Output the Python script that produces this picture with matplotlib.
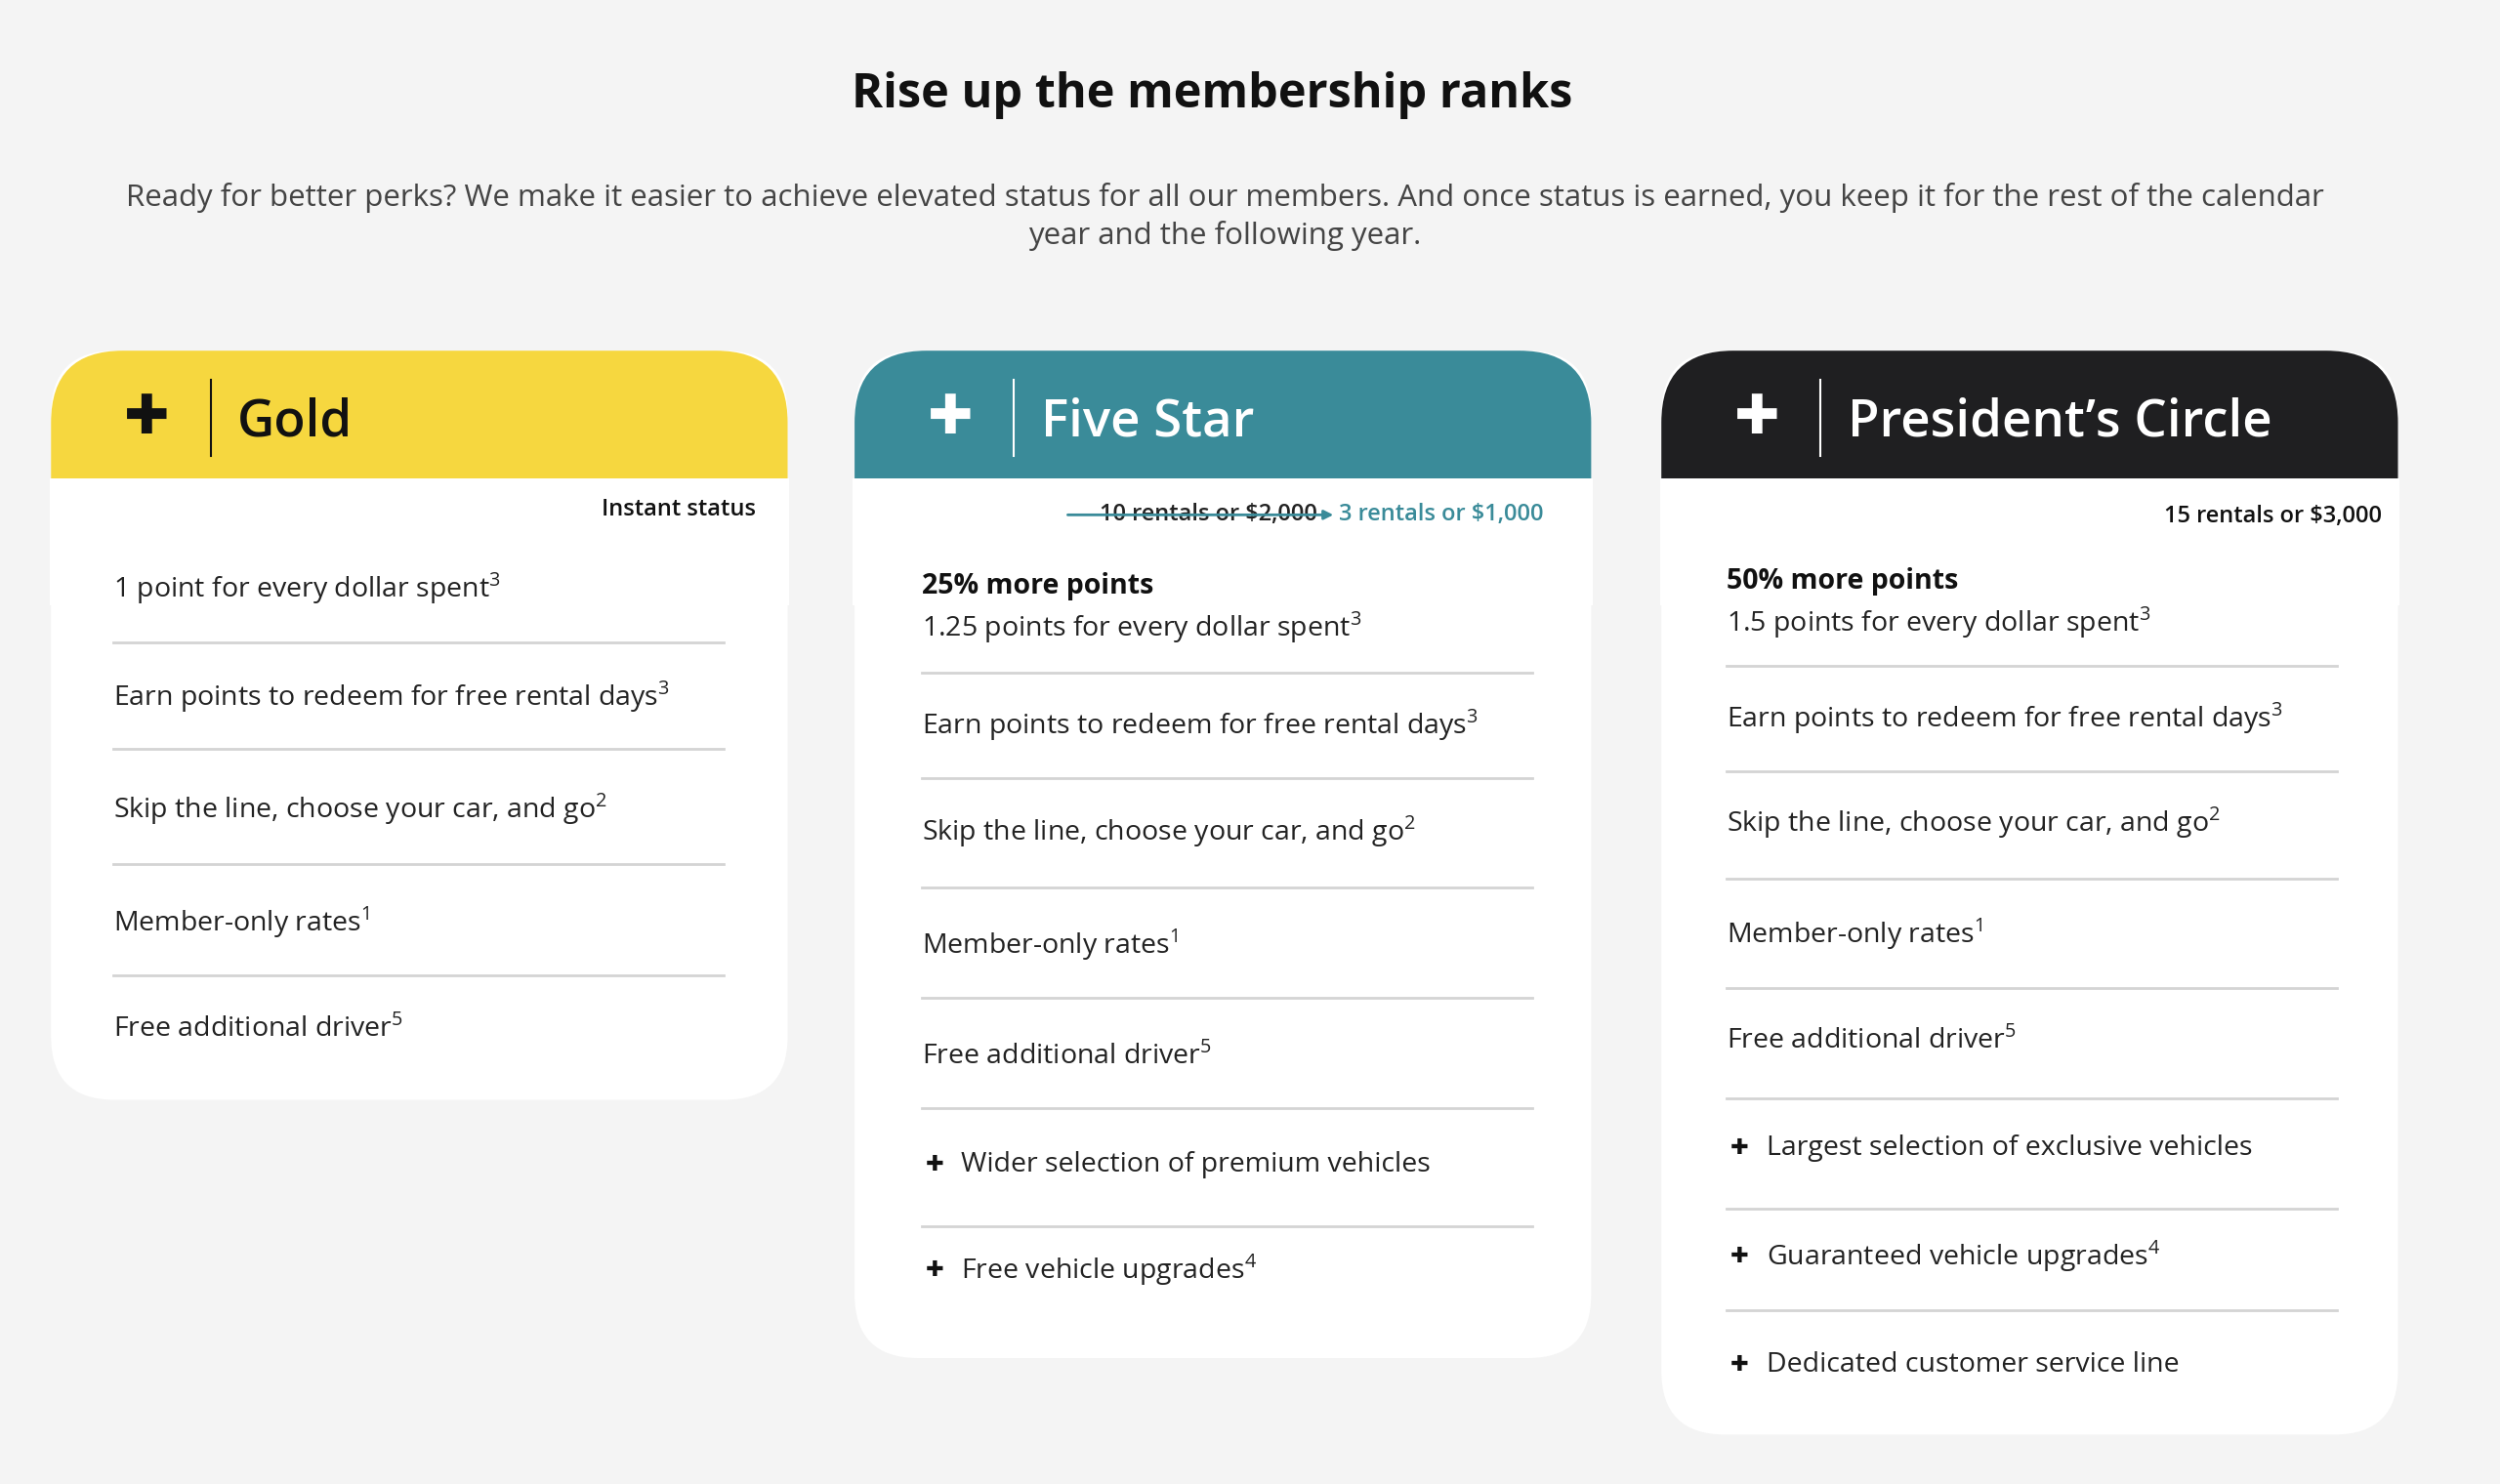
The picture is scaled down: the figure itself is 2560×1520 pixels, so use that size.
import matplotlib
matplotlib.use("Agg")
import matplotlib.pyplot as plt
from matplotlib.patches import FancyBboxPatch, Rectangle

plt.rcParams['font.family'] = ['Open Sans', 'DejaVu Sans']
plt.rcParams['mathtext.fontset'] = 'custom'
plt.rcParams['mathtext.rm'] = 'Open Sans'
plt.rcParams['mathtext.bf'] = 'Open Sans:bold'

title = "Rise up the membership ranks"
subtitle = ("Ready for better perks? We make it easier to achieve elevated status for all our members. And once status is earned, you keep it for the rest of the calendar\n"
            "year and the following year.")

tiers = ["Gold", "Five Star", "President\u2019s Circle"]
header_colors = ["#f6d73f", "#3a8b99", "#1f1f21"]
header_text_colors = ["#111111", "#ffffff", "#ffffff"]
requirements = ["Instant status", "3 rentals or $1,000", "15 rentals or $3,000"]
old_requirement = "10 rentals or $2,000"
bold_lines = [None, "25% more points", "50% more points"]
point_lines = ["1 point for every dollar spent$^3$",
               "1.25 points for every dollar spent$^3$",
               "1.5 points for every dollar spent$^3$"]
common_items = ["Earn points to redeem for free rental days$^3$",
                "Skip the line, choose your car, and go$^2$",
                "Member-only rates$^1$",
                "Free additional driver$^5$"]
extra_items = [[],
               ["Wider selection of premium vehicles", "Free vehicle upgrades$^4$"],
               ["Largest selection of exclusive vehicles", "Guaranteed vehicle upgrades$^4$",
                "Dedicated customer service line"]]

# layout (display units of a 1568x931 canvas)
card_x = [32, 536, 1042]
card_w = 462
card_bottom = [690, 852, 900]
req_y = [320, 323, 324]
first_y = [369, 381, 378]
item_ys = [[437, 508, 579, 646],
           [455, 522, 593, 663, 731, 797],
           [451, 516, 586, 653, 720, 788, 856]]
sep_ys = [[403, 470, 542, 612],
          [422, 488, 557, 626, 695, 769],
          [418, 484, 551, 620, 689, 758, 822]]
text_x = [71, 578, 1083]

W, H = 1568, 931
fig = plt.figure(figsize=(25.6, 15.2), dpi=100)
fig.patch.set_facecolor("#f4f4f4")
ax = fig.add_axes([0, 0, 1, 1])
ax.set_xlim(0, W)
ax.set_ylim(H, 0)
ax.axis("off")

ax.text(760, 60, title, ha="center", va="center", fontsize=35, fontweight="bold", color="#111111")
ax.text(768, 136, subtitle, ha="center", va="center", fontsize=22.5, color="#444444",
        linespacing=1.35)

FS = 20.5
for i in range(3):
    x0 = card_x[i]
    bot = card_bottom[i]
    ax.add_patch(FancyBboxPatch((x0 + 40, 220 + 40), card_w - 80, bot - 220 - 80,
                                boxstyle="round,pad=40,rounding_size=40",
                                fc="white", ec="none", zorder=1))
    ax.add_patch(FancyBboxPatch((x0 + 45, 220 + 45), card_w - 90, 60,
                                boxstyle="round,pad=45,rounding_size=45",
                                fc=header_colors[i], ec="none", zorder=2))
    ax.add_patch(Rectangle((x0 - 1, 300), card_w + 2, 80, fc="white", ec="none", zorder=3))
    tc = header_text_colors[i]
    ax.text(x0 + 60, 263, "\u271a", ha="center", va="center", fontsize=40,
            family="DejaVu Sans", color=tc, zorder=4)
    ax.plot([x0 + 100, x0 + 100], [238, 286], color=tc, lw=1.5, zorder=4)
    ax.text(x0 + 117, 265, tiers[i], ha="left", va="center", fontsize=38,
            fontweight="semibold", color=tc, zorder=4)

    # requirement
    rx = x0 + card_w - 20 + (10 if i == 2 else 0) - (10 if i == 1 else 0)
    if i == 1:
        ax.text(rx, req_y[i], requirements[i], ha="right", va="center", fontsize=17,
                color="#3a8b99", fontweight="semibold", zorder=4)
        ax.text(826, req_y[i], old_requirement, ha="right", va="center", fontsize=17,
                color="#222222", fontweight="semibold", zorder=4)
        ax.annotate("", xy=(838, req_y[i]), xytext=(668, req_y[i]),
                    arrowprops=dict(arrowstyle="-|>", color="#3a8b99", lw=2, mutation_scale=14),
                    zorder=5)
    else:
        ax.text(rx, req_y[i], requirements[i], ha="right", va="center", fontsize=17,
                color="#111111", fontweight="semibold", zorder=4)

    tx = text_x[i]
    if bold_lines[i]:
        ax.text(tx, first_y[i] - 13, bold_lines[i], ha="left", va="center", fontsize=FS,
                fontweight="bold", color="#111111", zorder=4)
        ax.text(tx, first_y[i] + 13, point_lines[i], ha="left", va="center", fontsize=FS,
                color="#222222", zorder=4)
    else:
        ax.text(tx, first_y[i], point_lines[i], ha="left", va="center", fontsize=FS,
                color="#222222", zorder=4)

    items = common_items + extra_items[i]
    for k, (txt, y) in enumerate(zip(items, item_ys[i])):
        if k >= len(common_items):
            ax.text(tx + 8, y, "\u271a", ha="center", va="center", fontsize=16,
                    family="DejaVu Sans", color="#111111", zorder=4)
            ax.text(tx + 25, y, txt, ha="left", va="center", fontsize=FS, color="#222222", zorder=4)
        else:
            ax.text(tx, y, txt, ha="left", va="center", fontsize=FS, color="#222222", zorder=4)
    for y in sep_ys[i]:
        ax.plot([tx, tx + 383], [y, y], color="#d4d4d4", lw=2, zorder=4)

fig.savefig("out.png", dpi=100, facecolor=fig.get_facecolor())
